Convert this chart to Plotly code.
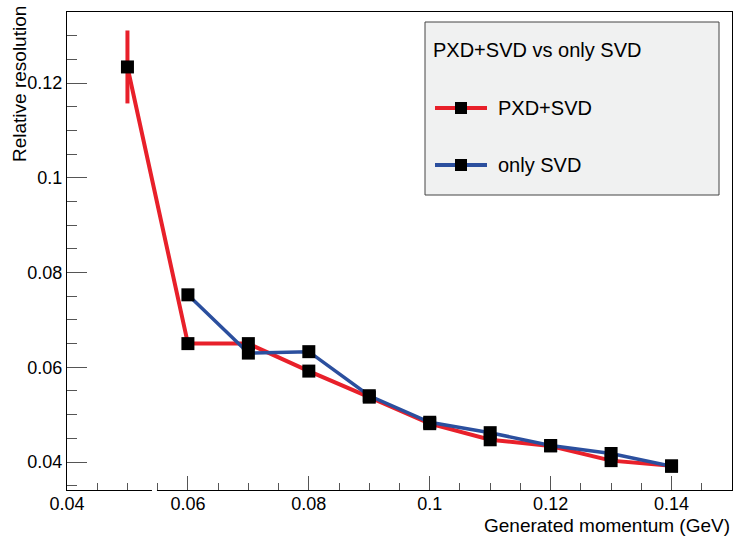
import plotly.graph_objects as go

# ---- data ----
momentum_pxd = [0.05, 0.06, 0.07, 0.08, 0.09, 0.10, 0.11, 0.12, 0.13, 0.14]
res_pxd      = [0.1234, 0.0650, 0.0650, 0.0592, 0.0537, 0.0481, 0.0447, 0.0434, 0.0403, 0.0392]
err_pxd      = [0.0077, 0.0008, 0.0008, 0.0007, 0.0006, 0.0005, 0.0005, 0.0004, 0.0004, 0.0004]

momentum_svd = [0.06, 0.07, 0.08, 0.09, 0.10, 0.11, 0.12, 0.13, 0.14]
res_svd      = [0.0753, 0.0630, 0.0633, 0.0540, 0.0484, 0.0462, 0.0435, 0.0418, 0.0391]

x_tickvals = [0.04, 0.06, 0.08, 0.10, 0.12, 0.14]
x_ticktext = ["0.04", "0.06", "0.08", "0.1", "0.12", "0.14"]
y_tickvals = [0.04, 0.06, 0.08, 0.10, 0.12]
y_ticktext = ["0.04", "0.06", "0.08", "0.1", "0.12"]

legend_title = "PXD+SVD vs only SVD"
name_pxd = "PXD+SVD"
name_svd = "only SVD"

RED = "#e8202a"
BLUE = "#2b4f9e"
FONT = "Liberation Sans, Arial, Helvetica, sans-serif"

W, H = 735, 536
L, R, T, B = 67, 3, 12, 46
PW, PH = W - L - R, H - T - B


def px(x):
    return (x - L) / PW


def py(y):
    return (H - B - y) / PH


fig = go.Figure()

fig.add_trace(go.Scatter(
    x=momentum_pxd, y=res_pxd, mode="lines",
    line=dict(color=RED, width=4),
    error_y=dict(type="data", array=err_pxd, color=RED, thickness=4, width=0),
    showlegend=False, hoverinfo="skip"))
fig.add_trace(go.Scatter(
    x=momentum_svd, y=res_svd, mode="lines",
    line=dict(color=BLUE, width=3.5),
    showlegend=False, hoverinfo="skip"))
fig.add_trace(go.Scatter(
    x=momentum_pxd, y=res_pxd, mode="markers", name=name_pxd,
    marker=dict(symbol="square", size=13, color="black"),
    showlegend=False))
fig.add_trace(go.Scatter(
    x=momentum_svd, y=res_svd, mode="markers", name=name_svd,
    marker=dict(symbol="square", size=13, color="black"),
    showlegend=False))

axis_common = dict(
    showline=True, linecolor="black", linewidth=1, mirror=True,
    showgrid=False, zeroline=False, ticks="inside", tickcolor="#555",
    tickwidth=1, tickfont=dict(family=FONT, size=18, color="black"),
)

fig.update_xaxes(
    range=[0.04, 0.15], tickvals=x_tickvals, ticktext=x_ticktext, ticklen=14,
    ticklabelstandoff=-3,
    minor=dict(dtick=0.005, tick0=0.04, ticklen=7, tickcolor="#555", ticks="inside"),
    **axis_common)
fig.update_yaxes(
    range=[0.0341, 0.135], tickvals=y_tickvals, ticktext=y_ticktext, ticklen=20,
    minor=dict(dtick=0.005, tick0=0.04, ticklen=10, tickcolor="#555", ticks="inside"),
    **axis_common)

shapes = []
annotations = []

# legend box
shapes.append(dict(type="rect", xref="paper", yref="paper",
                   x0=px(425), x1=px(719), y0=py(195), y1=py(22),
                   fillcolor="#f0f1f1", line=dict(color="#444", width=1)))
annotations.append(dict(xref="paper", yref="paper", x=px(431), y=py(50),
                        xanchor="left", yanchor="middle", showarrow=False,
                        text=legend_title, font=dict(family=FONT, size=20, color="black")))
for yy, col, nm in [(108, RED, name_pxd), (165, BLUE, name_svd)]:
    shapes.append(dict(type="line", xref="paper", yref="paper",
                       x0=px(435), x1=px(487), y0=py(yy), y1=py(yy),
                       line=dict(color=col, width=4)))
    shapes.append(dict(type="rect", xref="paper", yref="paper",
                       x0=px(455), x1=px(467), y0=py(yy + 6), y1=py(yy - 6),
                       fillcolor="black", line=dict(width=0)))
    annotations.append(dict(xref="paper", yref="paper", x=px(496), y=py(yy),
                            xanchor="left", yanchor="middle", showarrow=False,
                            text=nm, font=dict(family=FONT, size=20, color="black")))

# small break in the x-axis line
shapes.append(dict(type="line", xref="x", yref="paper",
                   x0=0.05405, x1=0.05488, y0=0, y1=0,
                   line=dict(color="white", width=2)))

# axis titles
annotations.append(dict(xref="paper", yref="paper", x=1.0, y=py(525),
                        xanchor="right", yanchor="middle", showarrow=False,
                        text="Generated momentum (GeV)",
                        font=dict(family=FONT, size=19, color="black")))
annotations.append(dict(xref="paper", yref="paper", x=px(20), y=py(4),
                        xanchor="center", yanchor="top", showarrow=False,
                        textangle=-90, text="Relative resolution",
                        font=dict(family=FONT, size=19, color="black")))

fig.update_layout(
    width=W, height=H, margin=dict(l=L, r=R, t=T, b=B),
    paper_bgcolor="white", plot_bgcolor="white",
    shapes=shapes, annotations=annotations, showlegend=False,
)

fig.write_html("out.html", config={"displayModeBar": False},
               post_script="document.body.style.margin='0px';document.body.style.overflow='hidden';")
